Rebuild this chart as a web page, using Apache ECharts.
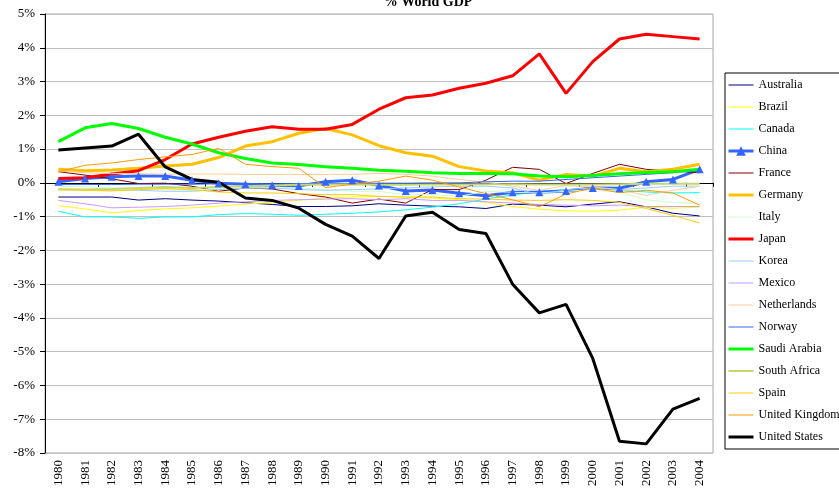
<!DOCTYPE html>
<html>
<head>
<meta charset="utf-8">
<script src="https://cdn.jsdelivr.net/npm/echarts@6/dist/echarts.min.js"></script>
<style>
html, body {margin: 0; padding: 0; background: #fff;}
#chart {width: 839px; height: 495px;}
</style>
</head>
<body>
<div id="chart"></div>
<script>
var years = ['1980','1981','1982','1983','1984','1985','1986','1987','1988','1989','1990','1991','1992',
    '1993','1994','1995','1996','1997','1998','1999','2000','2001','2002','2003','2004'];

var australia = [-0.42,-0.42,-0.42,-0.51,-0.47,-0.51,-0.54,-0.59,-0.64,-0.7,-0.7,-0.68,-0.62,-0.66,-0.69,-0.71,-0.76,-0.63,-0.66,-0.71,-0.63,-0.56,-0.71,-0.9,-0.98];
var brazil = [-0.68,-0.77,-0.89,-0.82,-0.77,-0.74,-0.69,-0.63,-0.58,-0.52,-0.45,-0.42,-0.4,-0.42,-0.45,-0.5,-0.58,-0.7,-0.78,-0.83,-0.84,-0.81,-0.72,-0.75,-0.72];
var canada = [-0.84,-1.01,-1.01,-1.05,-1.01,-1.01,-0.94,-0.91,-0.93,-0.96,-0.93,-0.9,-0.86,-0.8,-0.72,-0.62,-0.48,-0.36,-0.25,-0.2,-0.18,-0.22,-0.27,-0.3,-0.29];
var china = [0.03,0.13,0.18,0.2,0.2,0.08,-0.01,-0.04,-0.07,-0.09,0.03,0.08,-0.08,-0.24,-0.21,-0.31,-0.38,-0.28,-0.28,-0.24,-0.15,-0.16,0.03,0.1,0.4];
var france = [0.33,0.23,0.12,-0.02,-0.01,-0.1,-0.25,-0.15,-0.18,-0.32,-0.42,-0.6,-0.48,-0.6,-0.2,-0.2,0.08,0.46,0.4,-0.02,0.28,0.55,0.4,0.35,0.3];
var germany = [0.4,0.36,0.38,0.43,0.5,0.55,0.75,1.09,1.22,1.47,1.61,1.42,1.1,0.89,0.79,0.48,0.35,0.3,0.08,0.25,0.2,0.43,0.33,0.4,0.55];
var italy = [-0.1,-0.12,-0.15,-0.18,-0.2,-0.22,-0.18,-0.15,-0.15,-0.15,-0.2,-0.25,-0.25,-0.35,-0.35,-0.4,-0.25,-0.28,-0.3,-0.25,-0.2,-0.28,-0.5,-0.58,-0.62];
var japan = [0.13,0.15,0.26,0.36,0.69,1.15,1.35,1.53,1.66,1.59,1.59,1.73,2.18,2.52,2.6,2.8,2.95,3.17,3.82,2.65,3.59,4.26,4.4,4.33,4.26];
var korea = [-0.18,-0.2,-0.22,-0.22,-0.25,-0.25,-0.2,-0.15,-0.15,-0.2,-0.22,-0.2,-0.18,-0.15,-0.12,-0.1,-0.1,-0.15,-0.35,-0.2,-0.15,-0.2,-0.15,-0.1,-0.1];
var mexico = [-0.52,-0.62,-0.74,-0.72,-0.7,-0.66,-0.6,-0.56,-0.52,-0.5,-0.48,-0.47,-0.5,-0.47,-0.52,-0.52,-0.56,-0.6,-0.64,-0.66,-0.68,-0.66,-0.7,-0.7,-0.7];
var netherlands = [0.35,0.3,0.28,0.27,0.26,0.26,0.26,0.25,0.25,0.25,0.25,0.25,0.28,0.25,0.2,0.1,0.02,-0.1,-0.22,-0.08,-0.12,-0.2,-0.37,-0.22,-0.1];
var norway = [-0.05,-0.05,-0.05,-0.04,-0.04,-0.04,-0.03,-0.03,-0.03,-0.02,-0.02,-0.02,-0.01,-0.01,0,0,0.03,0.05,0.05,0.1,0.15,0.2,0.25,0.3,0.38];
var saudi = [1.22,1.63,1.76,1.61,1.35,1.15,0.89,0.72,0.59,0.54,0.48,0.43,0.37,0.34,0.3,0.28,0.28,0.27,0.2,0.18,0.22,0.27,0.31,0.33,0.4];
var southAfrica = [-0.2,-0.2,-0.18,-0.15,-0.12,-0.15,-0.12,-0.1,-0.08,-0.06,-0.05,-0.05,-0.06,-0.06,-0.05,-0.05,-0.04,-0.04,-0.05,-0.05,-0.05,-0.04,-0.03,-0.03,-0.03];
var spain = [-0.2,-0.22,-0.24,-0.2,-0.17,-0.2,-0.27,-0.3,-0.3,-0.32,-0.35,-0.35,-0.4,-0.42,-0.42,-0.47,-0.48,-0.51,-0.52,-0.5,-0.52,-0.58,-0.76,-0.96,-1.19];
var uk = [0.33,0.52,0.59,0.69,0.77,0.84,1.02,0.55,0.48,0.43,-0.14,-0.04,0.05,0.2,0.08,-0.12,-0.32,-0.5,-0.71,-0.33,-0.15,-0.29,-0.22,-0.3,-0.66];
var us = [0.97,1.03,1.09,1.44,0.47,0.1,0.02,-0.45,-0.52,-0.75,-1.23,-1.58,-2.24,-0.98,-0.87,-1.38,-1.5,-3.0,-3.85,-3.6,-5.2,-7.65,-7.73,-6.7,-6.38];

var FONT = 'Liberation Serif';

function mkline(name, data, color, width) {
    return {
        name: name,
        type: 'line',
        data: data,
        xAxisIndex: 0,
        symbol: 'none',
        lineStyle: {color: color, width: width},
        itemStyle: {color: color},
        emphasis: {disabled: true},
    };
};

var series = [
    mkline('Australia', australia, '#000080', 1),
    mkline('Brazil', brazil, '#FFFF00', 1),
    mkline('Canada', canada, '#00FFFF', 1),
    mkline('China', china, '#3366FF', 3),
    mkline('France', france, '#800000', 1),
    mkline('Germany', germany, '#FFC000', 3),
    mkline('Italy', italy, '#CCFFCC', 1),
    mkline('Japan', japan, '#FF0000', 3),
    mkline('Korea', korea, '#99CCFF', 1),
    mkline('Mexico', mexico, '#CC99FF', 1),
    mkline('Netherlands', netherlands, '#FFCC99', 1),
    mkline('Norway', norway, '#3366FF', 1),
    mkline('Saudi Arabia', saudi, '#00FF00', 3),
    mkline('South Africa', southAfrica, '#C4D670', 2),
    mkline('Spain', spain, '#FFCC00', 1),
    mkline('United Kingdom', uk, '#FF9900', 1),
    mkline('United States', us, '#000000', 3),
];
// china has triangle markers
series[3].symbol = 'triangle';
series[3].symbolSize = 8;
series[3].showSymbol = true;

// legend: plain line samples, only china keeps its marker
var legendData = series.map(function(s){
    if (s.name == 'China') return {name: s.name, itemStyle: {opacity: 1}};
    return {name: s.name};
});

var chart = echarts.init(document.getElementById('chart'));
var opt = {
    animation: false,
    title: {
        text: '% World GDP',
        left: 423, top: -10, textAlign: 'center',
        textStyle: {fontFamily: FONT, fontSize: 14, fontWeight: 'bold', color: '#000'}
    },
    grid: {left: 45, right: 126, top: 14, bottom: 42, show: true, borderColor: '#a6a6a6', borderWidth: 1},
    legend: {
        orient: 'vertical',
        left: 725, top: 73,
        padding: [6, 5, 6, 2],
        itemGap: 10,
        itemWidth: 25, itemHeight: 12,
        borderColor: '#000', borderWidth: 1,
        itemStyle: {opacity: 0},
        lineStyle: {width: 'inherit'},
        textStyle: {fontFamily: FONT, fontSize: 12, color: '#000'},
        data: legendData
    },
    xAxis: [{
        type: 'category',
        data: years,
        position: 'bottom',
        boundaryGap: true,
        axisLine: {show: false, onZero: false},
        axisTick: {show: false},
        axisLabel: {rotate: 90, margin: 7, fontFamily: FONT, fontSize: 13, color: '#000', interval: 0},
        splitLine: {show: false}
    }, {
        type: 'category',
        data: years,
        position: 'top',
        boundaryGap: true,
        axisLine: {show: true, onZero: true, lineStyle: {color: '#000', width: 1}},
        axisTick: {show: true, inside: true, length: 4, lineStyle: {color: '#000'}},
        axisLabel: {show: false},
        splitLine: {show: false}
    }],
    yAxis: {
        type: 'value',
        min: -8, max: 5, interval: 1,
        axisLine: {show: true, lineStyle: {color: '#000', width: 1}},
        axisTick: {show: true, length: 5, lineStyle: {color: '#000'}},
        axisLabel: {margin: 10, fontFamily: FONT, fontSize: 13, color: '#000', formatter: '{value}%'},
        splitLine: {show: true, lineStyle: {color: '#c0c0c0', width: 1}}
    },
    series: series
};
chart.setOption(opt);
</script>
</body>
</html>
